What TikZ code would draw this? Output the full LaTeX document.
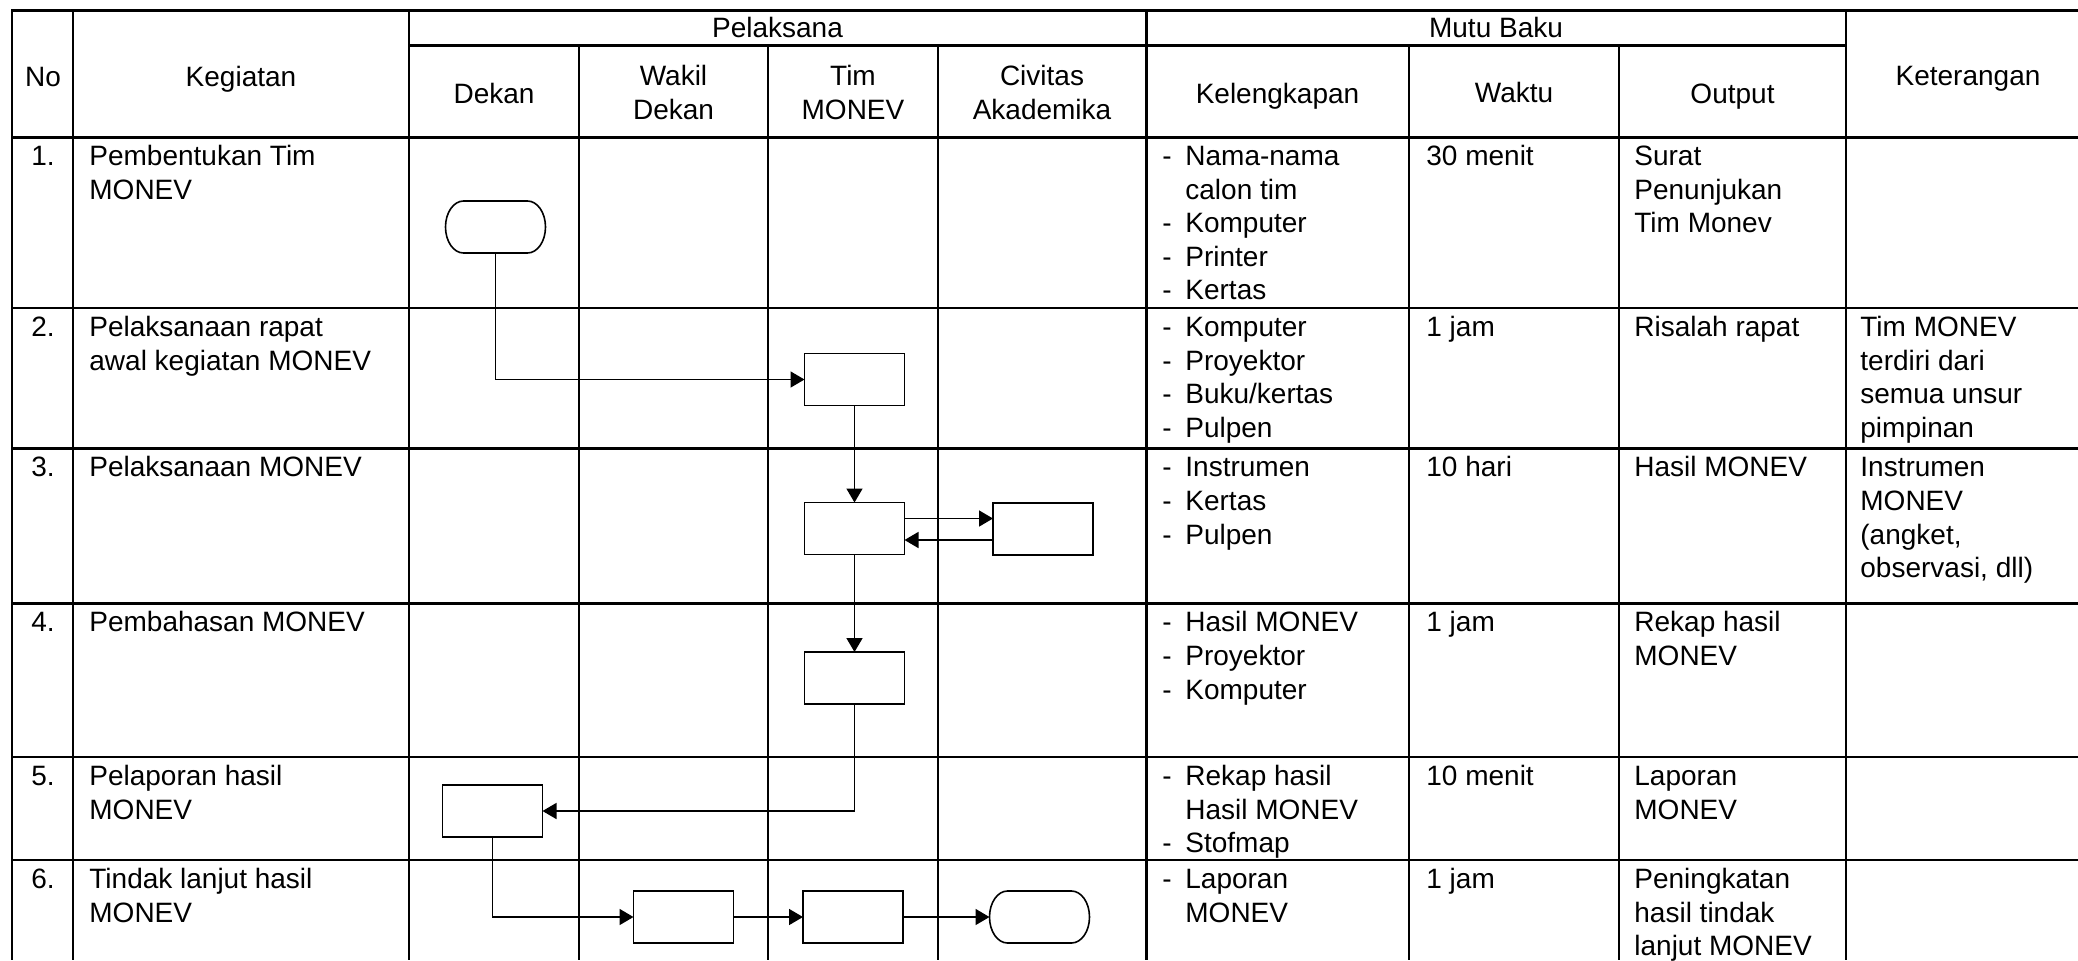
\documentclass[tikz,border=0pt]{standalone}
\usepackage{fontspec}
\setmainfont{Liberation Sans}
\usetikzlibrary{arrows.meta}
\newcommand\fs{\rule{0pt}{12pt}}
\newcommand\dsh{\makebox[11.5pt][l]{-}}
\newcommand\ind{\hspace*{11.5pt}}
\newcommand\termline[1]{\draw[boxline] ([xshift=9pt]#1.north west) -- ([xshift=-9pt]#1.north east)
  arc[start angle=90,end angle=-90,x radius=9pt,y radius=13pt] -- ([xshift=9pt]#1.south west)
  arc[start angle=270,end angle=90,x radius=9pt,y radius=13pt] -- cycle;}
\begin{document}
\begin{tikzpicture}[x=0.5pt,y=-0.5pt,
  grid/.style={line width=1.3pt},
  boxline/.style={line width=0.8pt},
  box/.style={draw, line width=0.8pt, minimum width=50pt, minimum height=26pt, inner sep=0pt, outer sep=0pt},
  termbox/.style={minimum width=50pt, minimum height=26pt, inner sep=0pt, outer sep=0pt},
  conn/.style={line width=0.8pt},
  arr/.style={conn, -{Triangle[length=7pt,width=8pt]}},
  txt/.style={inner sep=0pt, anchor=north west, align=left, font=\fontsize{14pt}{16.8pt}\selectfont},
  hdr/.style={inner sep=0pt, anchor=north, align=center, font=\fontsize{14pt}{16.8pt}\selectfont},
]
\useasboundingbox (0,0) rectangle (2078,960);

% ---- table grid ----
\draw[grid] (2078,10.7) -- (12,10.7) -- (12,960);
\draw[grid] (409,45.7) -- (1846,45.7);
\foreach \yy in {137.3,308,448.5,603.5,757,860}{\draw[grid] (12,\yy) -- (2078,\yy);}
\foreach \xx in {73,409,1146.5,1846}{\draw[grid] (\xx,10.7) -- (\xx,960);}
\foreach \xx in {579,768,938,1409,1619}{\draw[grid] (\xx,45.7) -- (\xx,960);}

% ---- header ----
\node[hdr] (hNo) at (43,62) {\fs No};
\node[hdr] (hKeg) at (241,62) {\fs Kegiatan};
\node[hdr] (hPel) at (777.5,13) {\fs Pelaksana};
\node[hdr] (hMutu) at (1496,13) {\fs Mutu Baku};
\node[hdr] (hKet) at (1968,61) {\fs Keterangan};
\node[hdr] (hDek) at (494,79) {\fs Dekan};
\node[hdr] (hWak) at (673.5,61) {\fs Wakil\\Dekan};
\node[hdr] (hTim) at (853,61) {\fs Tim\\MONEV};
\node[hdr] (hCiv) at (1042,61) {\fs Civitas\\Akademika};
\node[hdr] (hKel) at (1277.5,79) {\fs Kelengkapan};
\node[hdr] (hWkt) at (1514,78) {\fs Waktu};
\node[hdr] (hOut) at (1732.5,79) {\fs Output};

% ---- row 1 ----
\node[hdr] (n1) at (43,141) {\fs 1.};
\node[txt] (k1) at (89,141) {\fs Pembentukan Tim\\MONEV};
\node[txt] (l1) at (1162,141) {\fs\dsh Nama-nama\\\ind calon tim\\\dsh Komputer\\\dsh Printer\\\dsh Kertas};
\node[txt] (w1) at (1426,141) {\fs 30 menit};
\node[txt] (o1) at (1634,141) {\fs Surat\\Penunjukan\\Tim Monev};
% ---- row 2 ----
\node[hdr] (n2) at (43,312) {\fs 2.};
\node[txt] (k2) at (89,312) {\fs Pelaksanaan rapat\\awal kegiatan MONEV};
\node[txt] (l2) at (1162,312) {\fs\dsh Komputer\\\dsh Proyektor\\\dsh Buku/kertas\\\dsh Pulpen};
\node[txt] (w2) at (1426,312) {\fs 1 jam};
\node[txt] (o2) at (1634,312) {\fs Risalah rapat};
\node[txt] (e2) at (1860,312) {\fs Tim MONEV\\terdiri dari\\semua unsur\\pimpinan};
% ---- row 3 ----
\node[hdr] (n3) at (43,452.5) {\fs 3.};
\node[txt] (k3) at (89,452.5) {\fs Pelaksanaan MONEV};
\node[txt] (l3) at (1162,452.5) {\fs\dsh Instrumen\\\dsh Kertas\\\dsh Pulpen};
\node[txt] (w3) at (1426,452.5) {\fs 10 hari};
\node[txt] (o3) at (1634,452.5) {\fs Hasil MONEV};
\node[txt] (e3) at (1860,452.5) {\fs Instrumen\\MONEV\\(angket,\\observasi, dll)};
% ---- row 4 ----
\node[hdr] (n4) at (43,607.5) {\fs 4.};
\node[txt] (k4) at (89,607.5) {\fs Pembahasan MONEV};
\node[txt] (l4) at (1162,607.5) {\fs\dsh Hasil MONEV\\\dsh Proyektor\\\dsh Komputer};
\node[txt] (w4) at (1426,607.5) {\fs 1 jam};
\node[txt] (o4) at (1634,607.5) {\fs Rekap hasil\\MONEV};
% ---- row 5 ----
\node[hdr] (n5) at (43,761) {\fs 5.};
\node[txt] (k5) at (89,761) {\fs Pelaporan hasil\\MONEV};
\node[txt] (l5) at (1162,761) {\fs\dsh Rekap hasil\\\ind Hasil MONEV\\\dsh Stofmap};
\node[txt] (w5) at (1426,761) {\fs 10 menit};
\node[txt] (o5) at (1634,761) {\fs Laporan\\MONEV};
% ---- row 6 ----
\node[hdr] (n6) at (43,864) {\fs 6.};
\node[txt] (k6) at (89,864) {\fs Tindak lanjut hasil\\MONEV};
\node[txt] (l6) at (1162,864) {\fs\dsh Laporan\\\ind MONEV};
\node[txt] (w6) at (1426,864) {\fs 1 jam};
\node[txt] (o6) at (1634,864) {\fs Peningkatan\\hasil tindak\\lanjut MONEV};

% ---- flowchart ----
\node[termbox] (t1) at (495.5,227) {};
\termline{t1}
\node[box] (b2) at (854.5,379.5) {};
\node[box] (b3) at (854.5,528.5) {};
\node[box] (b3r) at (1043,529) {};
\node[box] (b4) at (854.5,678) {};
\node[box] (b5) at (492.5,811) {};
\node[box] (b6a) at (683.5,917) {};
\node[box] (b6b) at (853,917) {};
\node[termbox] (t6) at (1039.5,917) {};
\termline{t6}

\draw[arr] (t1.south) |- (b2.west);
\draw[arr] (b2.south) -- (b3.north);
\coordinate (p1) at ([yshift=5pt]b3.east);
\draw[arr] (p1) -- (p1 -| b3r.west);
\coordinate (p2) at ([yshift=-5.5pt]b3r.west);
\draw[arr] (p2) -- (p2 -| b3.east);
\draw[arr] (b3.south) -- (b4.north);
\draw[arr] (b4.south) |- (b5.east);
\draw[arr] (b5.south) |- (b6a.west);
\draw[arr] (b6a.east) -- (b6b.west);
\draw[arr] (b6b.east) -- (t6.west);
\end{tikzpicture}
\end{document}
